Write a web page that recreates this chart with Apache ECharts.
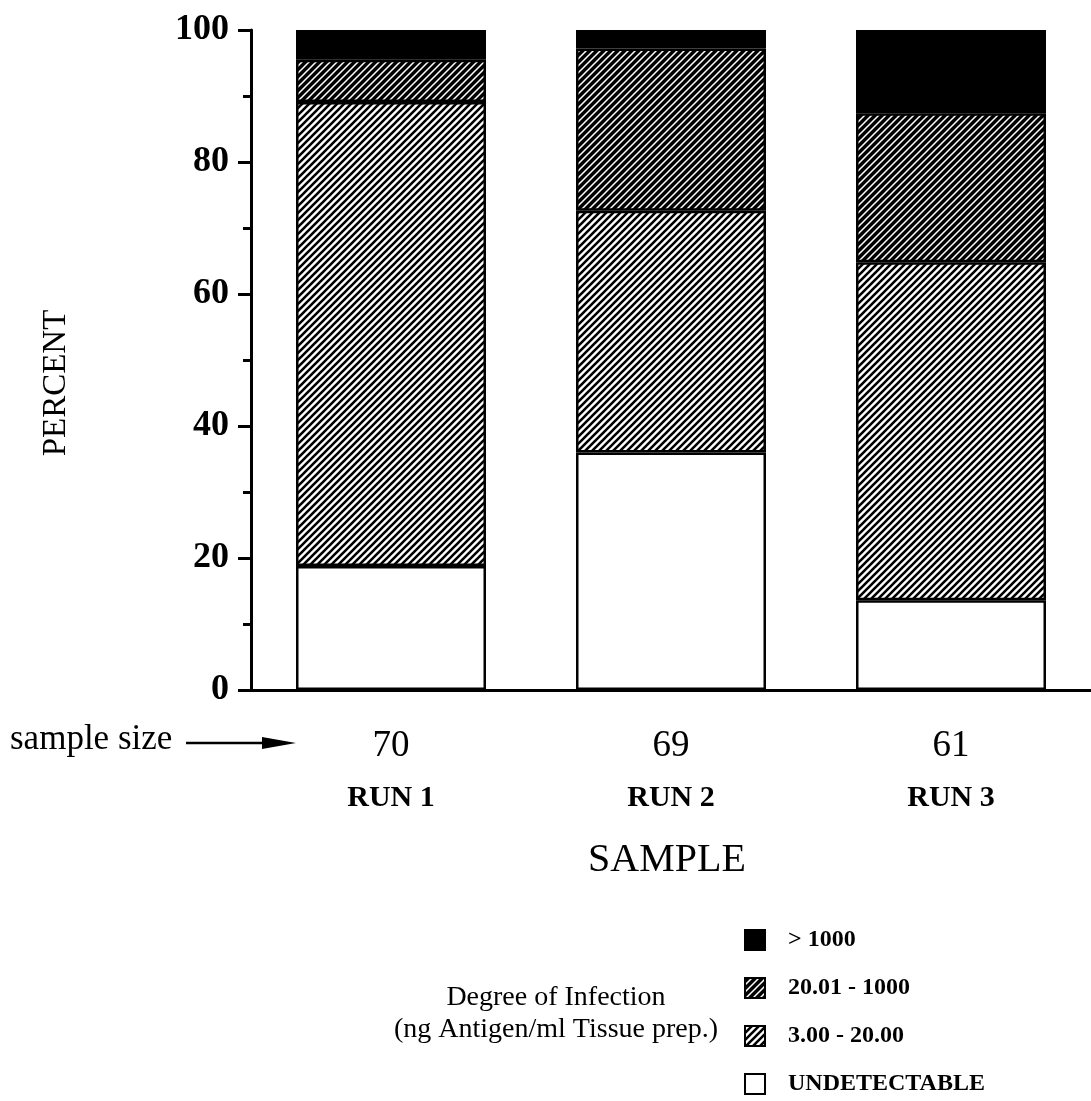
<!DOCTYPE html>
<html>
<head>
<meta charset="utf-8">
<script src="https://cdn.jsdelivr.net/npm/echarts@6/dist/echarts.min.js"></script>
<style>
html,body{margin:0;padding:0;background:#fff;}
#c{width:1091px;height:1101px;}
</style>
</head>
<body>
<div id="c"></div>
<script>
const categories = ['RUN 1', 'RUN 2', 'RUN 3'];
const sampleSizes = [70, 69, 61];
const undetectable = [18.8, 36.0, 13.6];
const low = [70.3, 36.6, 51.2];       // 3.00 - 20.00
const mid = [6.4, 24.6, 22.6];        // 20.01 - 1000
const high = [4.5, 2.8, 12.6];        // > 1000
const yTicks = [0, 20, 40, 60, 80, 100];

function hatch(bg, fg, w) {
  const s = 7;
  const c = document.createElement('canvas');
  c.width = s; c.height = s;
  const g = c.getContext('2d');
  g.fillStyle = bg; g.fillRect(0, 0, s, s);
  g.strokeStyle = fg; g.lineWidth = w; g.lineCap = 'square';
  g.beginPath();
  g.moveTo(-1, s + 1); g.lineTo(s + 1, -1);
  g.moveTo(-1, 1); g.lineTo(1, -1);
  g.moveTo(s - 1, s + 1); g.lineTo(s + 1, s - 1);
  g.stroke();
  return { image: c, repeat: 'repeat' };
}

const serif = '"Liberation Serif", "DejaVu Serif", serif';
const border = { borderColor: '#000', borderWidth: 2.5 };

const chart = echarts.init(document.getElementById('c'), null, { renderer: 'canvas' });
chart.setOption({
  animation: false,
  backgroundColor: '#fff',
  textStyle: { fontFamily: serif, color: '#000' },
  grid: { left: 251, right: 0, top: 30, bottom: 411 },
  legend: {
    orient: 'vertical',
    left: 744,
    top: 928,
    padding: 0,
    itemWidth: 20,
    itemHeight: 20,
    itemGap: 24,
    icon: 'rect',
    data: ['> 1000', '20.01 - 1000', '3.00 - 20.00', 'UNDETECTABLE'],
    textStyle: { fontFamily: serif, fontWeight: 'bold', fontSize: 24, color: '#000', padding: [0, 0, 0, 18] }
  },
  xAxis: {
    type: 'category',
    data: categories,
    axisLine: { show: true, lineStyle: { color: '#000', width: 3 } },
    axisTick: { show: false },
    name: 'SAMPLE',
    nameLocation: 'middle',
    nameGap: 150,
    nameTextStyle: { fontFamily: serif, fontSize: 40, color: '#000', padding: [0, 8, 0, 0] },
    axisLabel: {
      margin: 26,
      formatter: function (v, i) { return '{n|' + sampleSizes[i] + '}\n{r|' + v + '}'; },
      rich: {
        n: { fontFamily: serif, fontSize: 37, color: '#000', lineHeight: 60 },
        r: { fontFamily: serif, fontSize: 30, fontWeight: 'bold', color: '#000', lineHeight: 44 }
      }
    }
  },
  yAxis: {
    type: 'value',
    min: 0,
    max: 100,
    interval: 20,
    name: 'PERCENT',
    nameLocation: 'middle',
    nameRotate: 90,
    nameGap: 178,
    nameTextStyle: { fontFamily: serif, fontSize: 33, color: '#000', padding: [0, 46, 0, 0] },
    axisLine: { show: true, lineStyle: { color: '#000', width: 3 } },
    axisTick: { show: true, length: 13, lineStyle: { color: '#000', width: 3 } },
    minorTick: { show: true, splitNumber: 2, length: 8, lineStyle: { color: '#000', width: 3 } },
    splitLine: { show: false },
    axisLabel: {
      margin: 22,
      fontFamily: serif, fontSize: 36, fontWeight: 'bold', color: '#000',
      formatter: function (v) { return yTicks.indexOf(v) >= 0 ? String(v) : ''; }
    }
  },
  series: [
    { name: 'UNDETECTABLE', type: 'bar', stack: 's', barWidth: 190, data: undetectable,
      itemStyle: Object.assign({ color: '#fff' }, border) },
    { name: '3.00 - 20.00', type: 'bar', stack: 's', barWidth: 190, data: low,
      itemStyle: Object.assign({ color: hatch('#fff', '#000', 2.6) }, border) },
    { name: '20.01 - 1000', type: 'bar', stack: 's', barWidth: 190, data: mid,
      itemStyle: Object.assign({ color: hatch('#000', '#fff', 1.5) }, border) },
    { name: '> 1000', type: 'bar', stack: 's', barWidth: 190, data: high,
      itemStyle: Object.assign({ color: '#000' }, border) }
  ],
  graphic: [
    { type: 'text', left: 10, top: 722,
      style: { text: 'sample size', font: '35px ' + serif, fill: '#000' } },
    { type: 'line', shape: { x1: 186, y1: 743, x2: 272, y2: 743 },
      style: { stroke: '#000', lineWidth: 2.5 } },
    { type: 'polygon', shape: { points: [[262, 737], [296, 743], [262, 749]] },
      style: { fill: '#000' } },
    { type: 'text', x: 556, y: 982,
      style: { text: 'Degree of Infection\n(ng Antigen/ml Tissue prep.)', font: '28px ' + serif,
        fill: '#000', align: 'center', lineHeight: 32 } }
  ]
});
</script>
</body>
</html>
